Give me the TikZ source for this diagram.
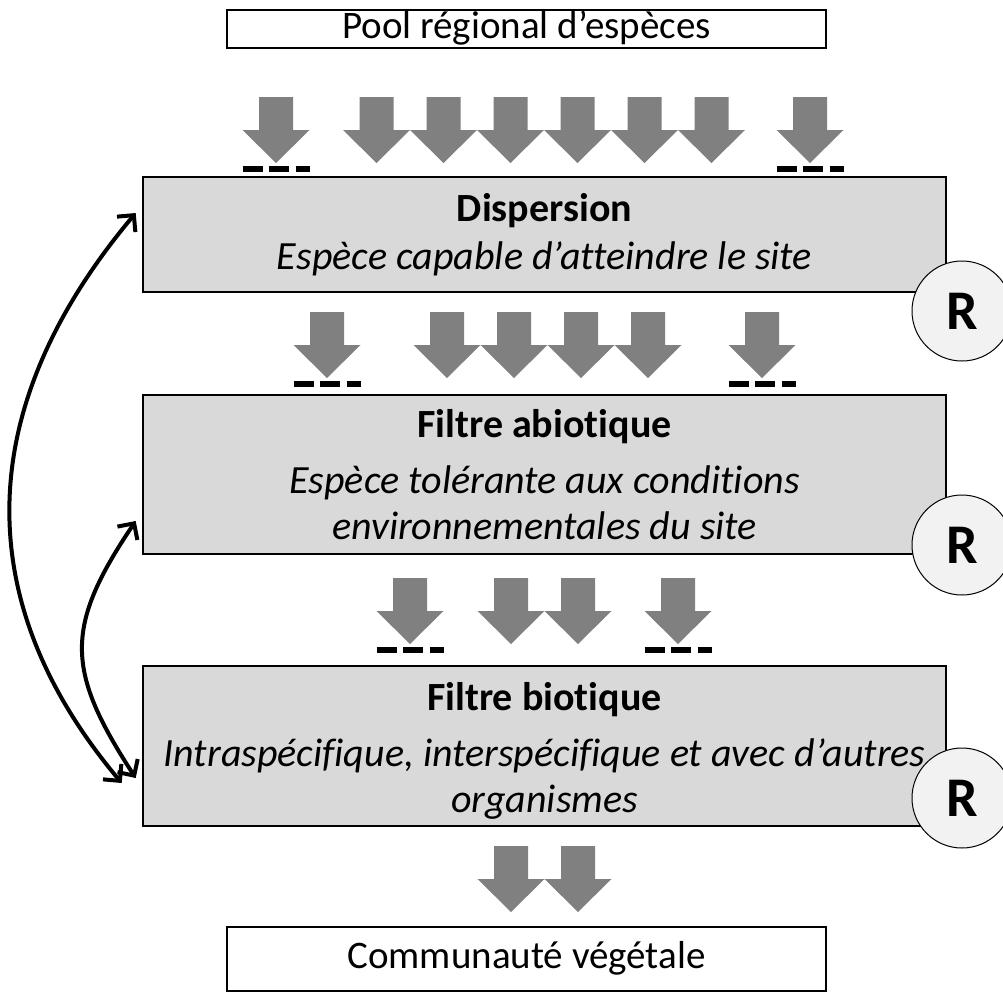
\documentclass[tikz,border=0pt]{standalone}
\usepackage{fontspec}
\setmainfont{Carlito}[Ligatures=NoCommon]
\usetikzlibrary{arrows.meta}

\definecolor{boxgray}{HTML}{D9D9D9}
\definecolor{arrowgray}{HTML}{808080}
\definecolor{rgray}{HTML}{F2F2F2}

\tikzset{
  filterbox/.style={draw,line width=1.3pt,fill=boxgray,minimum width=401.5pt,
    align=center,inner sep=0pt,font=\fontsize{20}{23}\selectfont},
  endbox/.style={draw,line width=1.3pt,fill=white,minimum width=299.5pt,
    inner sep=0pt,text height=13pt,text depth=4pt,font=\fontsize{19.5}{23}\selectfont},
  rmark/.style={circle,draw,line width=0.5pt,fill=rgray,minimum size=50pt,
    inner sep=0pt,font=\fontsize{28}{30}\selectfont\bfseries},
  link/.style={<->,line width=2pt,>={Straight Barb[length=6pt,width=12pt]}},
  downarr/.pic={\fill[arrowgray] (-17,0) -- (17,0) -- (17,33) -- (33.5,33)
    -- (0,66) -- (-33.5,33) -- (-17,33) -- cycle;},
  cutbar/.pic={\draw[line width=3pt,dash pattern=on 10pt off 3.25pt]
    (-33.5,72) -- (33.5,72);}
}

\begin{document}
\begin{tikzpicture}[x=0.5pt,y=-0.5pt]
\useasboundingbox (0,0) rectangle (1003,992);

% the four levels
\path
    (526.5,29) node [endbox,minimum height=19pt] (pool) {Pool régional d’espèces}
    (526.5,959) node [endbox,minimum height=32pt] (comm) {Communauté végétale};
\path
    (544.5,234.5) node [filterbox,minimum height=57.5pt] (disp)
        {\textbf{Dispersion}\\[1pt]\textit{Espèce capable d’atteindre le site}}
    (544.5,474.5) node [filterbox,minimum height=79.5pt] (abio)
        {\textbf{Filtre abiotique}\\[5pt]\textit{Espèce tolérante aux conditions}\\
         \textit{environnementales du site}}
    (544.5,746) node [filterbox,minimum height=80pt] (bio)
        {\rule{0pt}{19pt}\textbf{Filtre biotique}\\[5pt]\textit{Intraspécifique, interspécifique et avec d’autres}\\
         \textit{organismes}};

% species passing each filter
\foreach \x in {376.5,443.5,510.5,577.5,644.5,711.5}
    \pic at (\x,97) {downarr};
\foreach \x in {276,810}
    {\pic at (\x,97) {downarr}; \pic at (\x,97) {cutbar};}
\foreach \x in {447,514,581,648}
    \pic at (\x,312) {downarr};
\foreach \x in {327,762}
    {\pic at (\x,312) {downarr}; \pic at (\x,312) {cutbar};}
\foreach \x in {511,578}
    \pic at (\x,578) {downarr};
\foreach \x in {410,678}
    {\pic at (\x,578) {downarr}; \pic at (\x,578) {cutbar};}
\foreach \x in {511,578}
    \pic at (\x,846) {downarr};

% R marks
\path
    (962,311) node [rmark] (r1) {R}
    (962,545) node [rmark] (r2) {R}
    (962,798) node [rmark] (r3) {R};

% feedback between filters
\draw [link] ([shift={(-3pt,10.75pt)}]disp.west)
    to [out=230,in=130,looseness=1.1] ([shift={(-10pt,-18.5pt)}]bio.west);
\draw [link] ([shift={(-3pt,-23.25pt)}]abio.west)
    to [out=236,in=123,looseness=1.28] ([shift={(-3pt,-16pt)}]bio.west);
\end{tikzpicture}
\end{document}
